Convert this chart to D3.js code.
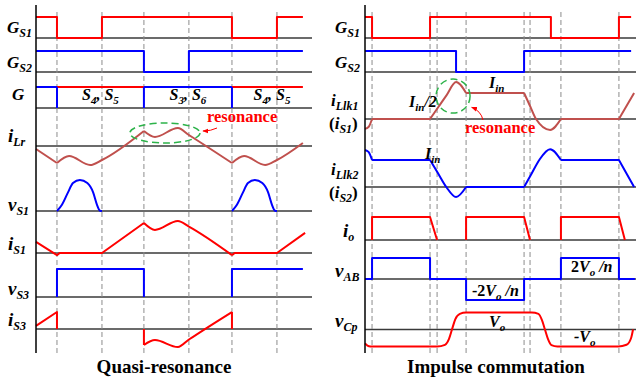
<!DOCTYPE html>
<html>
<head>
<meta charset="utf-8">
<script src="https://cdn.jsdelivr.net/npm/d3@7"></script>
<style>
  body { margin: 0; background: #fff; }
  text { font-family: "Liberation Serif", "Times New Roman", serif; font-weight: bold; }
</style>
</head>
<body>
<svg id="chart" width="638" height="384"></svg>
<script>
// time is in % of the plotted window, values are per-unit of each trace

// ---- left: quasi-resonance ----
const qrEdges = [7.6, 23.9, 39.1, 55.4, 71.0, 87.3];
const qrGS1 = [[0,1],[7.6,1],[7.6,0],[23.9,0],[23.9,1],[71,1],[71,0],[87.3,0],[87.3,1],[96.7,1]];
const qrGS2 = [[0,1],[39.1,1],[39.1,0],[55.4,0],[55.4,1],[96.7,1]];
const qrPairs = [[0, 7.6, 'S36'], [7.6, 39.1, 'S45'], [39.1, 71, 'S36'], [71, 96.7, 'S45']];
const qrILr = [
  {c: 'lin',  p: [[0,-0.15],[7.6,-0.85]]},
  {c: 'mono', p: [[7.6,-0.85],[12,-0.5],[19.6,-0.95],[23.9,-0.7],[39.1,0.75]]},
  {c: 'mono', p: [[39.1,0.75],[43.1,0.45],[51.4,0.9],[55.4,0.55],[71,-0.85]]},
  {c: 'mono', p: [[71,-0.85],[75.4,-0.5],[83,-0.95],[87.3,-0.7],[96.7,0.15]]}
];
const qrVS1 = [
  {c: 'mono', p: [[7.6,0],[9.4,0.2],[11.6,0.6],[13.4,0.9],[15.9,1],[18.6,0.9],[20.7,0.6],[22.1,0.2],[23.2,0.01],[23.9,0]]},
  {c: 'mono', p: [[71,0],[72.8,0.2],[75,0.6],[76.8,0.9],[79.3,1],[82,0.9],[84.1,0.6],[85.5,0.2],[86.6,0.01],[87.3,0]]}
];
const qrIS1 = [
  {c: 'lin',  p: [[0,0.37],[7.6,-0.07],[8.6,0],[23.9,0],[39.1,1]]},
  {c: 'mono', p: [[39.1,1],[43.1,0.77],[51.4,1.07],[55.4,0.88],[71,-0.07]]},
  {c: 'lin',  p: [[71,-0.07],[72,0],[87.3,0],[97.5,0.67]]}
];
const qrVS3 = [
  {c: 'lin', p: [[7.6,0],[7.6,1],[39.1,1],[39.1,0]]},
  {c: 'lin', p: [[71,0],[71,1],[96.7,1]]}
];
const qrIS3 = [
  {c: 'lin',  p: [[0,0.18],[7.6,1],[7.6,0]]},
  {c: 'lin',  p: [[39.1,0],[39.1,-0.94]]},
  {c: 'mono', p: [[39.1,-0.94],[43.1,-0.65],[51.4,-1.06],[55.4,-0.62],[71,1]]},
  {c: 'lin',  p: [[71,1],[71,0]]}
];
const qrResonance = {t: 46.7, v: 0.65, dt: 12.7, dv: 0.5};

// ---- right: impulse commutation ----
const icEdges = [2.6, 24.0, 26.6, 37.3, 58.7, 60.9, 72.3, 93.7];
const icGS1 = [[0,1],[2.6,1],[2.6,0],[24,0],[24,1],[68.6,1],[68.6,0],[93.7,0],[93.7,1],[98.2,1]];
const icGS2 = [[0,1],[33.6,1],[33.6,0],[58.7,0],[58.7,1],[98.2,1]];
const icILlk1 = [
  {c: 'mono', p: [[0,-0.38],[1.3,-0.31],[2.6,0]]},
  {c: 'lin',  p: [[2.6,0],[24,0]]},
  {c: 'mono', p: [[24,0],[27,0.45],[30,0.9],[33.6,1.42],[37.3,1]]},
  {c: 'lin',  p: [[37.3,1],[58.7,1]]},
  {c: 'mono', p: [[58.7,1],[60.9,0.5],[63.1,0],[68.3,-0.42],[72.3,0]]},
  {c: 'lin',  p: [[72.3,0],[93.7,0],[99.3,1]]}
];
const icILlk2 = [
  {c: 'mono', p: [[0,1.37],[1.3,1.3],[2.6,1]]},
  {c: 'lin',  p: [[2.6,1],[24,1]]},
  {c: 'mono', p: [[24,1],[27,0.5],[30,0],[33.6,-0.37],[37.3,0]]},
  {c: 'lin',  p: [[37.3,0],[58.7,0]]},
  {c: 'mono', p: [[58.7,0],[61.5,0.5],[64.3,1],[68.3,1.4],[72.3,1]]},
  {c: 'lin',  p: [[72.3,1],[93.7,1],[99.3,0]]}
];
const icIo = [
  {c: 'lin', p: [[2.6,0],[2.6,1],[24,1],[26.6,0]]},
  {c: 'lin', p: [[37.3,0],[37.3,1],[58.7,1],[60.9,0]]},
  {c: 'lin', p: [[72.3,0],[72.3,1],[93.7,1],[95.9,0]]}
];
const icVAB = [[0,0],[2.6,0],[2.6,1],[24,1],[24,0],[37.3,0],[37.3,-1],[58.7,-1],[58.7,0],
               [72.3,0],[72.3,1],[93.7,1],[93.7,0],[99.6,0]];
const icVCp = [[0,-0.82],[0.9,-0.95],[2,-1],[26.6,-1],[29.5,-0.9],[31,-0.55],[32.1,0],[33.3,0.6],
               [35,0.92],[37.3,1],[61.5,1],[64,0.92],[65.3,0.55],[66.4,0],[67.5,-0.55],[68.8,-0.92],
               [71,-1],[93.4,-1],[96.5,-0.9],[98.2,-0.5],[98.9,0]];
const icResonance = {t: 32.5, v: 0.88, r: 17};

// ---- text ----
const pairText = {
  S45: [['S','i'],['4','s'],[', ','i'],['S','i'],['5','s']],
  S36: [['S','i'],['3','s'],[', ','i'],['S','i'],['6','s']]
};
const titles = ['Quasi-resonance', 'Impulse commutation'];

const RED = '#ff0000', BLUE = '#0000ff', BROWN = '#c0504d', GREEN = '#2db34a';

const svg = d3.select('#chart');
svg.append('defs').append('marker')
  .attr('id', 'arrow').attr('viewBox', '0 0 10 10').attr('refX', 9).attr('refY', 5)
  .attr('markerWidth', 6).attr('markerHeight', 6).attr('orient', 'auto-start-reverse')
  .append('path').attr('d', 'M0,1L10,5L0,9Z').attr('fill', RED);

const xL = d3.scaleLinear().domain([0, 100]).range([36, 312]);
const xR = d3.scaleLinear().domain([0, 100]).range([365, 636]);

const lanesL = {
  GS1: {base: 38,  unit: 21, lx: 7,  ly: 33,  fs: 17, label: [['G','i'],['S1','s']]},
  GS2: {base: 72,  unit: 21, lx: 7,  ly: 68,  fs: 17, label: [['G','i'],['S2','s']]},
  G:   {base: 108, unit: 21, lx: 12, ly: 100, fs: 17, label: [['G','i']]},
  iLr: {base: 146, unit: 20, lx: 8,  ly: 142, fs: 19, label: [['i','i'],['Lr','s']]},
  vS1: {base: 211, unit: 31, lx: 8,  ly: 211, fs: 19, label: [['v','i'],['S1','s']]},
  iS1: {base: 253, unit: 30, lx: 8,  ly: 250, fs: 19, label: [['i','i'],['S1','s']]},
  vS3: {base: 297, unit: 28, lx: 8,  ly: 295, fs: 19, label: [['v','i'],['S3','s']]},
  iS3: {base: 329, unit: 17, lx: 8,  ly: 326, fs: 19, label: [['i','i'],['S3','s']]}
};
const lanesR = {
  GS1:   {base: 38,    unit: 21, lx: 335, ly: 33,  fs: 17, label: [['G','i'],['S1','s']]},
  GS2:   {base: 72,    unit: 21, lx: 335, ly: 68,  fs: 17, label: [['G','i'],['S2','s']]},
  iLlk1: {base: 119,   unit: 26, lx: 331, ly: 106, fs: 17, label: [['i','i'],['Llk1','s']],
          lx2: 329, ly2: 129, label2: [['(','r'],['i','i'],['S1','s'],[')','r']]},
  iLlk2: {base: 187,   unit: 27, lx: 331, ly: 175, fs: 17, label: [['i','i'],['Llk2','s']],
          lx2: 329, ly2: 198, label2: [['(','r'],['i','i'],['S2','s'],[')','r']]},
  io:    {base: 240,   unit: 23, lx: 343, ly: 237, fs: 19, label: [['i','i'],['o','s']]},
  vAB:   {base: 279,   unit: 21, lx: 335, ly: 277, fs: 19, label: [['v','i'],['AB','s']]},
  vCp:   {base: 329.5, unit: 17, lx: 335, ly: 327, fs: 19, label: [['v','i'],['Cp','s']]}
};
Object.values(lanesL).concat(Object.values(lanesR)).forEach(l => {
  l.y = d3.scaleLinear().domain([0, 1]).range([l.base, l.base - l.unit]);
});

function rich(sel, x, y, parts, size, color, subSize) {
  const sub = subSize || size * 0.72;
  const t = sel.append('text').attr('x', x).attr('y', y)
    .attr('font-size', size).attr('fill', color || '#000');
  let shift = 0;
  parts.forEach(([s, k]) => {
    const want = k === 's' ? sub * 0.34 : 0;
    const span = t.append('tspan').text(s).attr('dy', want - shift)
      .attr('font-style', k === 'r' ? 'normal' : 'italic');
    if (k === 's') span.attr('font-size', sub);
    shift = want;
  });
  return t;
}

function trace(g, x, y, pieces, color) {
  pieces.forEach(pc => {
    const line = d3.line().x(d => x(d[0])).y(d => y(d[1]))
      .curve(pc.c === 'mono' ? d3.curveMonotoneX : d3.curveLinear);
    g.append('path').attr('d', line(pc.p)).attr('fill', 'none')
      .attr('stroke', color).attr('stroke-width', 2).attr('stroke-linejoin', 'round');
  });
}

function frame(x, lanes, edges) {
  const g = svg.append('g');
  Object.values(lanes).forEach(l => {
    g.append('line').attr('x1', x(0)).attr('x2', x(100)).attr('y1', l.base).attr('y2', l.base)
      .attr('stroke', '#3a3a3a').attr('stroke-width', 1.5);
    rich(g, l.lx, l.ly, l.label, l.fs, '#000', 12);
    if (l.label2) rich(g, l.lx2, l.ly2, l.label2, l.fs, '#000', 12);
  });
  g.selectAll('line.edge').data(edges).join('line').attr('class', 'edge')
    .attr('x1', d => x(d)).attr('x2', d => x(d)).attr('y1', 12).attr('y2', 353)
    .attr('stroke', '#8c8c8c').attr('stroke-width', 1).attr('stroke-dasharray', '5,3');
  return g;
}

// ---- left panel ----
const gL = frame(xL, lanesL, qrEdges);
const sL = svg.append('g');
trace(sL, xL, lanesL.GS1.y, [{c: 'lin', p: qrGS1}], RED);
trace(sL, xL, lanesL.GS2.y, [{c: 'lin', p: qrGS2}], BLUE);
qrPairs.forEach(([t0, t1, pair], i) => {
  const y = lanesL.G.y;
  const col = pair === 'S45' ? RED : BLUE;
  trace(sL, xL, y, [{c: 'lin', p: [[t0, 1], [t1, 1]]}], col);
  if (i > 0) trace(sL, xL, y, [{c: 'lin', p: [[t0, 0], [t0, 1]]}], BLUE);
  if (i > 0) {
    const tEnd = i === qrPairs.length - 1 ? 100 : t1;
    rich(sL, xL((t0 + tEnd) / 2), 100, pairText[pair], 16, '#000', 11).attr('text-anchor', 'middle');
  }
});
trace(sL, xL, lanesL.iLr.y, qrILr, BROWN);
trace(sL, xL, lanesL.vS1.y, qrVS1, BLUE);
trace(sL, xL, lanesL.iS1.y, qrIS1, RED);
trace(sL, xL, lanesL.vS3.y, qrVS3, BLUE);
trace(sL, xL, lanesL.iS3.y, qrIS3, RED);

{
  const r = qrResonance, y = lanesL.iLr.y;
  const cx = xL(r.t), cy = y(r.v);
  const rx = xL(r.t + r.dt) - cx, ry = y(0) - y(r.dv);
  sL.append('ellipse').attr('cx', cx).attr('cy', cy).attr('rx', rx).attr('ry', ry)
    .attr('fill', 'none').attr('stroke', GREEN).attr('stroke-width', 1.5).attr('stroke-dasharray', '7,4');
  rich(sL, 207, 122, [['resonance', 'r']], 16.5, RED);
  sL.append('path').attr('d', `M${217},${128} Q${211},${131} ${cx + rx + 3},${cy - 2}`)
    .attr('fill', 'none').attr('stroke', RED).attr('stroke-width', 1).attr('marker-end', 'url(#arrow)');
}

// ---- right panel ----
const gR = frame(xR, lanesR, icEdges);
const sR = svg.append('g');
trace(sR, xR, lanesR.GS1.y, [{c: 'lin', p: icGS1}], RED);
trace(sR, xR, lanesR.GS2.y, [{c: 'lin', p: icGS2}], BLUE);
trace(sR, xR, lanesR.iLlk1.y, icILlk1, BROWN);
trace(sR, xR, lanesR.iLlk2.y, icILlk2, BLUE);
trace(sR, xR, lanesR.io.y, icIo, RED);
trace(sR, xR, lanesR.vAB.y, [{c: 'lin', p: icVAB}], BLUE);
trace(sR, xR, lanesR.vCp.y, [{c: 'mono', p: icVCp}], RED);

{
  const r = icResonance, y = lanesR.iLlk1.y;
  const cx = xR(r.t), cy = y(r.v);
  sR.append('circle').attr('cx', cx).attr('cy', cy).attr('r', r.r)
    .attr('fill', 'none').attr('stroke', GREEN).attr('stroke-width', 1.5).attr('stroke-dasharray', '7,4');
  rich(sR, 465, 133, [['resonance', 'r']], 16.5, RED);
  sR.append('path').attr('d', `M${483},${120} Q${481},${111} ${cx + r.r * 0.8 + 5},${cy + r.r * 0.6 + 1}`)
    .attr('fill', 'none').attr('stroke', RED).attr('stroke-width', 1).attr('marker-end', 'url(#arrow)');
}

rich(sR, 409, 107, [['I','i'],['in','s'],['/2','i']], 16, '#000', 11);
rich(sR, 489, 88,  [['I','i'],['in','s']], 16, '#000', 11);
rich(sR, 425, 159, [['I','i'],['in','s']], 16, '#000', 11);
rich(sR, 571, 272, [['2','r'],['V','i'],['o','s'],[' /n','i']], 16, '#000', 11);
rich(sR, 472, 296, [['-2','r'],['V','i'],['o','s'],[' /n','i']], 16, '#000', 11);
rich(sR, 489, 327, [['V','i'],['o','s']], 16, '#000', 11);
rich(sR, 574, 342, [['-V','i'],['o','s']], 16, '#000', 11);

// axes on top
[xL, xR].forEach(x => {
  svg.append('line').attr('x1', x(0)).attr('x2', x(0)).attr('y1', 5).attr('y2', 353)
    .attr('stroke', '#000').attr('stroke-width', 1.5);
});

svg.append('text').attr('x', 164).attr('y', 373).attr('text-anchor', 'middle')
  .attr('font-size', 19).text(titles[0]);
svg.append('text').attr('x', 496).attr('y', 373).attr('text-anchor', 'middle')
  .attr('font-size', 19).text(titles[1]);
</script>
</body>
</html>
